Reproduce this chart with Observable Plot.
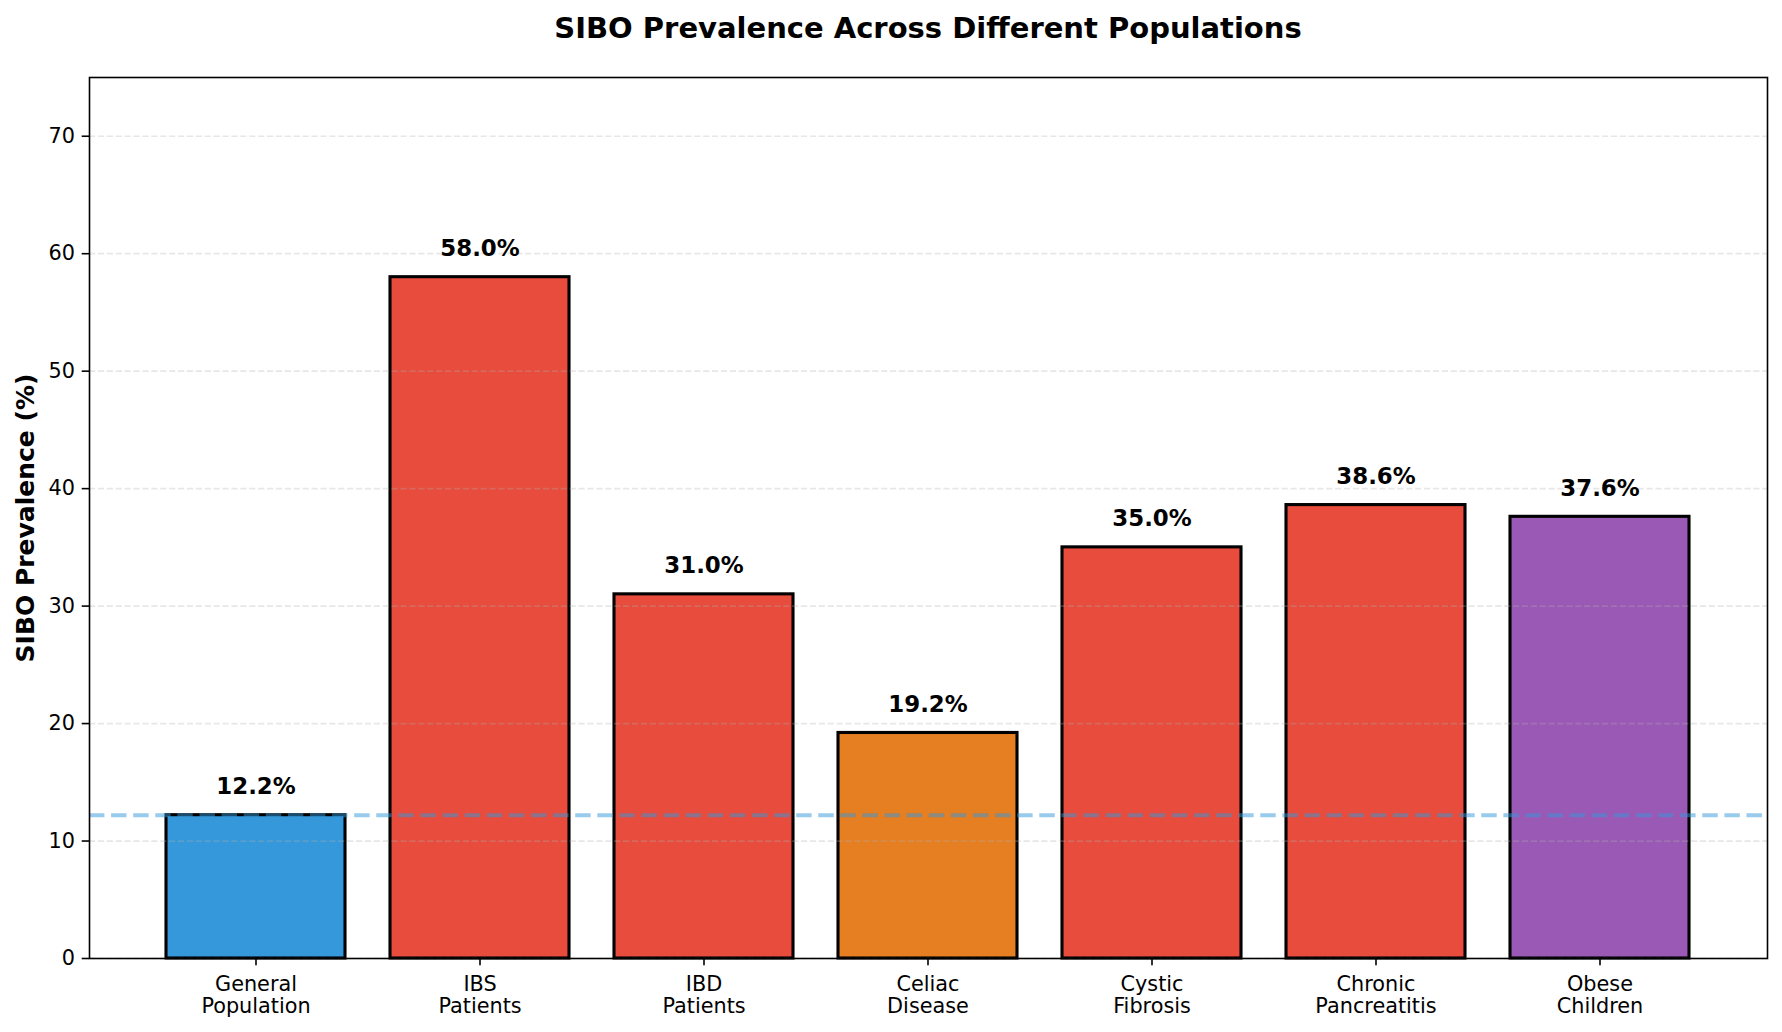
<!DOCTYPE html>
<html>
<head>
<meta charset="utf-8">
<script src="https://cdn.jsdelivr.net/npm/d3@7"></script>
<script src="https://cdn.jsdelivr.net/npm/@observablehq/plot@0.6"></script>
<style>
  html, body { margin: 0; padding: 0; background: #fff; overflow: hidden; }
  #title {
    width: 1782px; height: 54px; line-height: 56px; box-sizing: border-box;
    padding-left: 89px; padding-right: 15px; text-align: center;
    font-family: "DejaVu Sans", sans-serif; font-weight: bold; font-size: 29px; color: #000;
  }
</style>
</head>
<body>
<div id="title">SIBO Prevalence Across Different Populations</div>
<div id="chart"></div>
<script>
// ---- data ----
const categories = ["General Population", "IBS Patients", "IBD Patients", "Celiac Disease", "Cystic Fibrosis", "Chronic Pancreatitis", "Obese Children"];
const prevalence = [12.2, 58.0, 31.0, 19.2, 35.0, 38.6, 37.6];
const yTicks = [0, 10, 20, 30, 40, 50, 60, 70];
const baselineValue = prevalence[0];

// ---- styles ----
const barColors = {
  "General Population": "#3498db",
  "IBS Patients": "#e74c3c",
  "IBD Patients": "#e74c3c",
  "Celiac Disease": "#e67e22",
  "Cystic Fibrosis": "#e74c3c",
  "Chronic Pancreatitis": "#e74c3c",
  "Obese Children": "#9b59b6"
};

const data = categories.map((c, i) => ({category: c, value: prevalence[i]}));
const font = "DejaVu Sans";

const chart = Plot.plot({
  width: 1782,
  height: 978,
  marginLeft: 89,
  marginRight: 15,
  marginTop: 23,
  marginBottom: 74,
  style: {fontFamily: font, background: "#fff", color: "#000"},
  x: {type: "band", domain: categories, paddingInner: 0.2, paddingOuter: 0.34, align: 0.5},
  y: {domain: [0, 75]},
  marks: [
    Plot.barY(data, {x: "category", y: "value", fill: d => barColors[d.category], stroke: "#000", strokeWidth: 3.1}),
    Plot.gridY(yTicks, {stroke: "#b0b0b0", strokeOpacity: 0.3, strokeWidth: 1.7, strokeDasharray: "6.2,2.7"}),
    Plot.ruleY([baselineValue], {stroke: "#3498db", strokeOpacity: 0.5, strokeWidth: 4, strokeDasharray: "15.4,6.7"}),
    Plot.text(data, {
      x: "category", y: d => d.value + 1, text: d => d.value.toFixed(1) + "%",
      fontWeight: "bold", fontSize: 22.9, fill: "#000", lineAnchor: "bottom", dy: -9.5, fontFamily: font
    }),
    Plot.frame({stroke: "#000", strokeWidth: 1.6}),
    Plot.axisY({
      ticks: yTicks, tickSize: 7.3, tickPadding: 7.3, fontSize: 20.8, strokeWidth: 1.6,
      label: null, fill: "#000"
    }),
    Plot.axisY({
      ticks: [], label: "SIBO Prevalence (%)", labelAnchor: "center", labelArrow: "none",
      labelOffset: 73, fontSize: 25, fontWeight: "bold", fill: "#000"
    }),
    Plot.axisX({
      tickSize: 7.3, tickPadding: 9.5, fontSize: 20.8, strokeWidth: 1.6, label: null,
      lineHeight: 1.05, tickFormat: d => d.replace(" ", "\n"), fill: "#000"
    })
  ]
});
document.getElementById("chart").appendChild(chart);
</script>
</body>
</html>
